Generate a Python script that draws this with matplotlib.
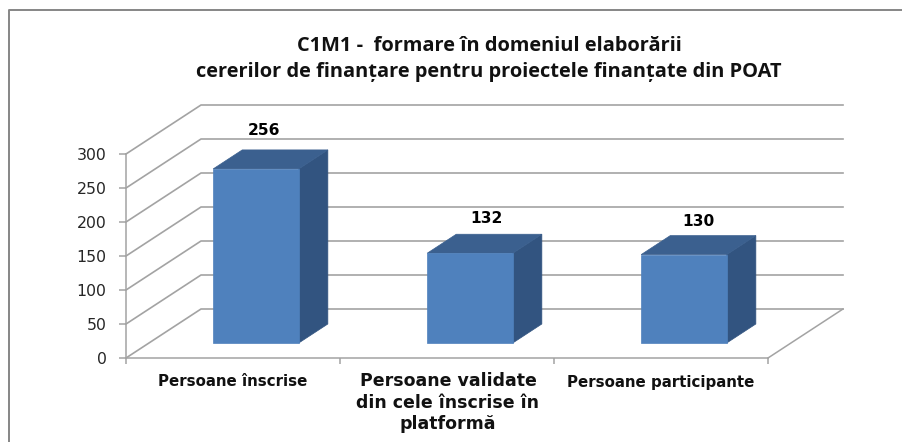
import matplotlib
matplotlib.use("Agg")
import matplotlib.pyplot as plt
from matplotlib.lines import Line2D
from matplotlib.patches import Polygon

# valorile din grafic
categories = ["Persoane înscrise", "Persoane validate\ndin cele înscrise în\nplatformă", "Persoane participante"]
values = [256, 132, 130]
y_ticks = [0, 50, 100, 150, 200, 250, 300]

W, H = 903, 442
GRID = "#A3A3A3"
FRONT = "#4F81BD"
SIDE = "#325480"
TOP = "#3B608F"

# pseudo 3D: adancimea z (0 = fata, 1 = spate) deplaseaza punctul in x si y
SHEAR_X = 75 / 214
SHEAR_Y = 49 / 0.68
BAR_W = 0.40
Z_FRONT = 0.306
Z_BACK = 0.694


def proj(x, y, z):
    return (x + z * SHEAR_X, y + z * SHEAR_Y)


def draw_bar(ax, i, val):
    x0 = i + 0.5 - BAR_W / 2
    x1 = i + 0.5 + BAR_W / 2
    front = [proj(x0, 0, Z_FRONT), proj(x1, 0, Z_FRONT), proj(x1, val, Z_FRONT), proj(x0, val, Z_FRONT)]
    side = [proj(x1, 0, Z_FRONT), proj(x1, 0, Z_BACK), proj(x1, val, Z_BACK), proj(x1, val, Z_FRONT)]
    top = [proj(x0, val, Z_FRONT), proj(x1, val, Z_FRONT), proj(x1, val, Z_BACK), proj(x0, val, Z_BACK)]
    for pts, col in [(side, SIDE), (top, TOP), (front, FRONT)]:
        ax.add_patch(Polygon(pts, closed=True, facecolor=col, edgecolor=col, lw=0.5, zorder=5, clip_on=False))


fig = plt.figure(figsize=(W / 100, H / 100), dpi=100)
ax = fig.add_axes([126 / W, 1 - 358 / H, (768 - 126) / W, (358 - 154) / H])
ax.set_xlim(0, len(categories))
ax.set_ylim(0, 300)
ax.patch.set_alpha(0)

for s in ["top", "right"]:
    ax.spines[s].set_visible(False)
for s in ["left", "bottom"]:
    ax.spines[s].set_color(GRID)
    ax.spines[s].set_linewidth(1.1)

ax.set_yticks(y_ticks)
ax.set_xticks(range(len(categories) + 1))
ax.set_xticklabels([])
ax.tick_params(axis="y", length=5, width=1.1, color=GRID, pad=9, labelsize=11.3, labelcolor="#262626")
ax.tick_params(axis="x", length=4.5, width=1.1, color=GRID)
for lab in ax.get_yticklabels():
    lab.set_family("DejaVu Sans")

# peretele din spate si peretele lateral
n = len(categories)
for t in y_ticks:
    a = proj(0, t, 0)
    b = proj(0, t, 1)
    c = proj(n, t, 1)
    ax.plot([a[0], b[0], c[0]], [a[1], b[1], c[1]], color=GRID, lw=1.2, clip_on=False, zorder=1)
# podeaua
a = proj(n, 0, 0)
b = proj(n, 0, 1)
ax.plot([a[0], b[0]], [a[1], b[1]], color=GRID, lw=1.1, clip_on=False, zorder=1)

label_dx = [-21, -13, -15]
label_up = [19, 16, 14]
for i, v in enumerate(values):
    draw_bar(ax, i, v)
    ax.annotate(str(v), xy=proj(i + 0.5, v, Z_BACK), xytext=(label_dx[i], label_up[i]), textcoords="offset pixels",
                ha="center", va="center", fontsize=11.2, fontweight="bold", family="DejaVu Sans", color="black",
                annotation_clip=False)

# etichetele categoriilor
for i, name in enumerate(categories):
    if "\n" in name:
        ax.annotate(name, xy=(i + 0.5, 0), xytext=(1, -14), textcoords="offset pixels", ha="center", va="top",
                    fontsize=12.5, fontweight="bold", family="DejaVu Sans", color="#111111", linespacing=1.25,
                    annotation_clip=False)
    else:
        ax.annotate(name, xy=(i + 0.5, 0), xytext=(0, -24), textcoords="offset pixels", ha="center", va="center",
                    fontsize=10.8, fontweight="bold", family="DejaVu Sans", color="#111111",
                    annotation_clip=False)

fig.text(489 / W, 1 - 46 / H, "C1M1 -  formare în domeniul elaborării", ha="center", va="center",
         fontsize=14.4, fontweight="bold", family="Open Sans", color="#111111")
fig.text(489 / W, 1 - 72 / H, "cererilor de finanțare pentru proiectele finanțate din POAT", ha="center", va="center",
         fontsize=14.4, fontweight="bold", family="Open Sans", color="#111111")

# chenarul (doar sus si stanga)
fig.add_artist(Line2D([9 / W, 9 / W, 1], [0, 1 - 10 / H, 1 - 10 / H], transform=fig.transFigure, color="#868686", lw=1.4))

fig.savefig("out.png", dpi=100)
